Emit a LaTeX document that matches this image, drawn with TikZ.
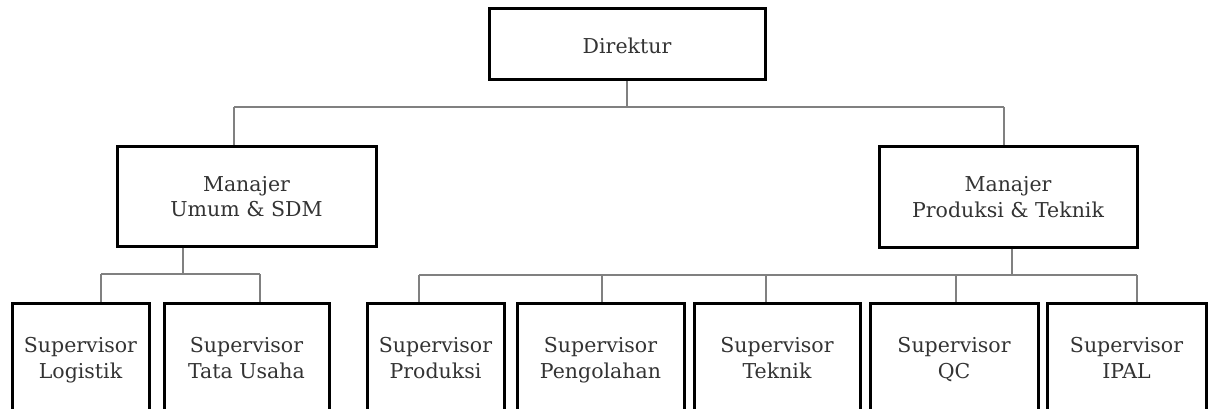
\documentclass[tikz,border=0pt]{standalone}
\usepackage{fontspec}
\setmainfont{DejaVu Serif}
\begin{document}
\begin{tikzpicture}[x=1pt,y=-1pt,
  box/.style={draw=black, line width=3pt, align=center, inner sep=0pt,
    font=\fontsize{20.5}{25.5}\selectfont, text=black!80,
    execute at begin node=\strut, execute at end node=\strut, text depth=0pt},
  conn/.style={draw=black!50, line width=1.4pt}]
\useasboundingbox (0,0) rectangle (1208,409);
\clip (0,0) rectangle (1208,409);
% boxes
\node[box, minimum width=276pt, minimum height=71pt] (dir) at (627,44.5) {Direktur};
\node[box, minimum width=259pt, minimum height=99pt] (mu) at (246.5,196.5) {Manajer\\Umum \& SDM};
\node[box, minimum width=258pt, minimum height=100pt] (mp) at (1008,197) {Manajer\\Produksi \& Teknik};
\node[box, minimum width=137pt, minimum height=110pt] (log) at (80.5,358) {Supervisor\\Logistik};
\node[box, minimum width=165pt, minimum height=110pt] (tu) at (246.5,358) {Supervisor\\Tata Usaha};
\node[box, minimum width=137pt, minimum height=110pt] (prod) at (435.5,358) {Supervisor\\Produksi};
\node[box, minimum width=167pt, minimum height=110pt] (peng) at (600.5,358) {Supervisor\\Pengolahan};
\node[box, minimum width=166pt, minimum height=110pt] (tek) at (777,358) {Supervisor\\Teknik};
\node[box, minimum width=168pt, minimum height=110pt] (qc) at (954,358) {Supervisor\\QC};
\node[box, minimum width=159pt, minimum height=110pt] (ipal) at (1126.5,358) {Supervisor\\IPAL};
% bus coordinates
\coordinate (t0) at (627,107);
\coordinate (t1) at (234,107);
\coordinate (t2) at (1004,107);
\coordinate (u0) at (183,274);
\coordinate (u1) at (101,274);
\coordinate (u2) at (260,274);
\coordinate (p0) at (1012,275);
\coordinate (p1) at (419,275);
\coordinate (p2) at (602,275);
\coordinate (p3) at (766,275);
\coordinate (p4) at (956,275);
\coordinate (p5) at (1137,275);
% connectors
\draw[conn] (t0 |- dir.south) -- (t0);
\draw[conn] (t1) -- (t2);
\draw[conn] (t1) -- (t1 |- mu.north);
\draw[conn] (t2) -- (t2 |- mp.north);
\draw[conn] (u0 |- mu.south) -- (u0);
\draw[conn] (u1) -- (u2);
\draw[conn] (u1) -- (u1 |- log.north);
\draw[conn] (u2) -- (u2 |- tu.north);
\draw[conn] (p0 |- mp.south) -- (p0);
\draw[conn] (p1) -- (p5);
\draw[conn] (p1) -- (p1 |- prod.north);
\draw[conn] (p2) -- (p2 |- peng.north);
\draw[conn] (p3) -- (p3 |- tek.north);
\draw[conn] (p4) -- (p4 |- qc.north);
\draw[conn] (p5) -- (p5 |- ipal.north);
\end{tikzpicture}
\end{document}
